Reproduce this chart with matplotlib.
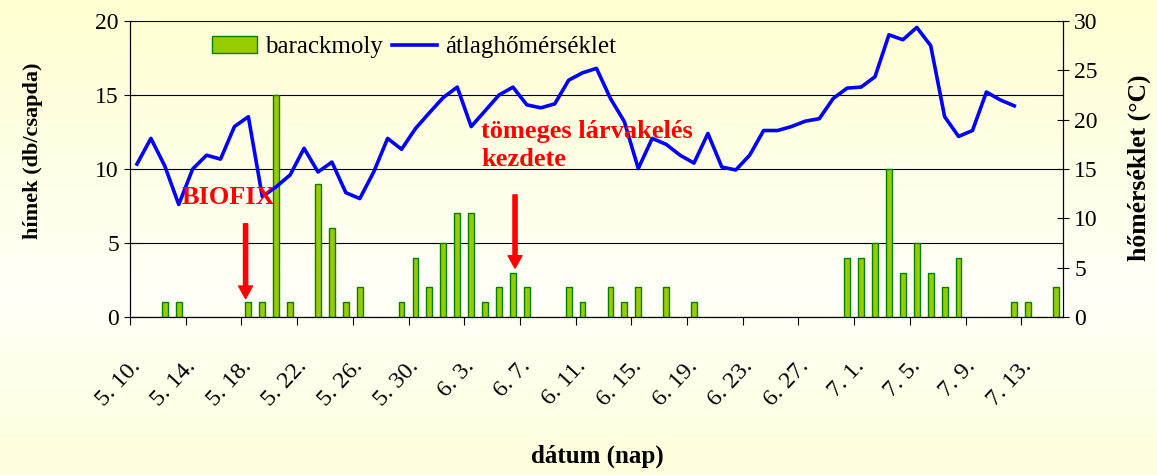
import numpy as np
import pandas as pd
import matplotlib
matplotlib.use("Agg")
import matplotlib.pyplot as plt
from matplotlib.patches import Patch
from matplotlib.lines import Line2D

plt.rcParams['font.family'] = ['Liberation Serif', 'DejaVu Serif']

# daily categories 5.10 - 7.15
days = pd.date_range("2000-05-10", "2000-07-15", freq="D")
day_labels = [f"{d.month}. {d.day}." for d in days]

# barackmoly catches (db/csapda)
moth = [0, 0, 1, 1, 0, 0, 0, 0, 1, 1, 15, 1, 0, 9, 6, 1, 2, 0, 0, 1,
        4, 2, 5, 7, 7, 1, 2, 3, 2, 0, 0, 2, 1, 0, 2, 1, 2, 0, 2, 0,
        1, 0, 0, 0, 0, 0, 0, 0, 0, 0, 0, 4, 4, 5, 10, 3, 5, 3, 2, 4,
        0, 0, 0, 1, 1, 0, 2]

# daily mean temperature (°C), ends at 7.13
temp = [15.5, 18.1, 15.3, 11.4, 15.0, 16.4, 16.0, 19.3, 20.3, 12.2,
        13.2, 14.4, 17.1, 14.7, 15.7, 12.6, 12.0, 14.7, 18.1, 17.0,
        19.1, 20.7, 22.25, 23.3, 19.3, 20.9, 22.5, 23.3, 21.5, 21.2,
        21.6, 24.0, 24.75, 25.2, 22.15, 19.8, 15.05, 18.1, 17.5, 16.4,
        15.6, 18.6, 15.2, 14.9, 16.4, 18.9, 18.9, 19.3, 19.85, 20.1,
        22.15, 23.2, 23.3, 24.35, 28.6, 28.1, 29.35, 27.5, 20.3, 18.3,
        18.9, 22.8, 22.0, 21.4]

BAR_FACE = '#99cc00'
BAR_EDGE = '#008000'
LINE_COL = '#0000ff'
FS = 17

fig = plt.figure(figsize=(11.57, 4.75), dpi=100)

# background gradient (light yellow -> white -> light yellow)
bg = fig.add_axes([0, 0, 1, 1], zorder=-10)
stops = np.array([0.0, 0.63, 1.0])
g = np.linspace(0, 1, 200)
blue = np.interp(g, stops, [210, 248, 220]) / 255.0
grad = np.ones((200, 2, 3))
grad[:, :, 2] = blue[:, None]
bg.imshow(grad, aspect='auto', extent=[0, 1, 0, 1])
bg.axis('off')

ax = fig.add_axes([130 / 1157, 1 - 317 / 475, 933 / 1157, 296 / 475])
ax.patch.set_visible(False)
ax2 = ax.twinx()
ax2.patch.set_visible(False)

x = np.arange(len(day_labels))
moth = np.array(moth)
nz = moth > 0
ax.bar(x[nz], moth[nz], width=0.42, color=BAR_FACE, edgecolor=BAR_EDGE,
       linewidth=1.0, zorder=3)
ax.set_ylim(0, 20)
ax.set_xlim(-0.5, len(day_labels) - 0.5)
ax.set_yticks(range(0, 21, 5))
ax.set_axisbelow(True)
ax.grid(axis='y', color='black', linewidth=0.8)

ax2.plot(x[:len(temp)], temp, color=LINE_COL, linewidth=2.6, zorder=4)
ax2.set_ylim(0, 30)
ax2.set_yticks(range(0, 31, 5))

# tick marks between categories, labels on every 4th day
ax.set_xticks(np.arange(-0.5, len(day_labels), 4))
ax.set_xticklabels([])
ax.set_xticks(x[::4], minor=True)
ax.set_xticklabels(day_labels[::4], minor=True, rotation=47, ha='right',
                   va='center', rotation_mode='anchor', fontsize=FS + 0.5)
ax.tick_params(axis='x', which='major', direction='out', length=6, width=0.8)
ax.tick_params(axis='x', which='minor', length=0, pad=33)
ax.tick_params(axis='y', direction='inout', length=8, width=0.8, labelsize=FS, pad=4)
ax2.tick_params(axis='y', direction='inout', length=8, width=0.8, labelsize=FS, pad=4)

for a in (ax, ax2):
    a.spines['top'].set_visible(False)
    for s in ('left', 'right', 'bottom'):
        a.spines[s].set_color('black')
        a.spines[s].set_linewidth(0.8)

ax.set_ylabel("hímek (db/csapda)", fontsize=16, fontweight='bold')
ax.yaxis.set_label_coords(-0.093, 0.56)
fig.text(1139 / 1157, 1 - 168 / 475, "hőmérséklet (°C)", rotation=90,
         ha='center', va='center', fontsize=18.5, fontweight='bold')
fig.text(597 / 1157, 1 - 456 / 475, "dátum (nap)", ha='center', va='center',
         fontsize=18, fontweight='bold')

# annotations (left axis data coordinates, drawn above the line)
ax2.text(6.6, 8.05, "BIOFIX", transform=ax.transData, color='red',
         fontsize=19, fontweight='bold', ha='center', va='center', zorder=6)
ax2.annotate("", xy=(7.8, 1.25), xytext=(7.8, 6.3), xycoords=ax.transData,
             textcoords=ax.transData, zorder=6,
             arrowprops=dict(facecolor='red', edgecolor='red', width=3,
                             headwidth=10, headlength=9, shrink=0))
ax2.text(24.7, 11.6, "tömeges lárvakelés\nkezdete", transform=ax.transData,
         color='red', fontsize=19, fontweight='bold', ha='left', va='center',
         linespacing=1.25, zorder=6)
ax2.annotate("", xy=(27.15, 3.3), xytext=(27.15, 8.25), xycoords=ax.transData,
             textcoords=ax.transData, zorder=6,
             arrowprops=dict(facecolor='red', edgecolor='red', width=3,
                             headwidth=10, headlength=9, shrink=0))

handles = [Patch(facecolor=BAR_FACE, edgecolor=BAR_EDGE, linewidth=1.0),
           Line2D([0], [0], color=LINE_COL, linewidth=2.6)]
ax2.legend(handles, ["barackmoly", "átlaghőmérséklet"], ncol=2,
           loc='center left', bbox_to_anchor=(0.088, 0.912), frameon=False,
           fontsize=18, handlelength=1.8, handletextpad=0.3,
           columnspacing=0.4, borderpad=0, borderaxespad=0)

fig.savefig("out.png", dpi=100)
